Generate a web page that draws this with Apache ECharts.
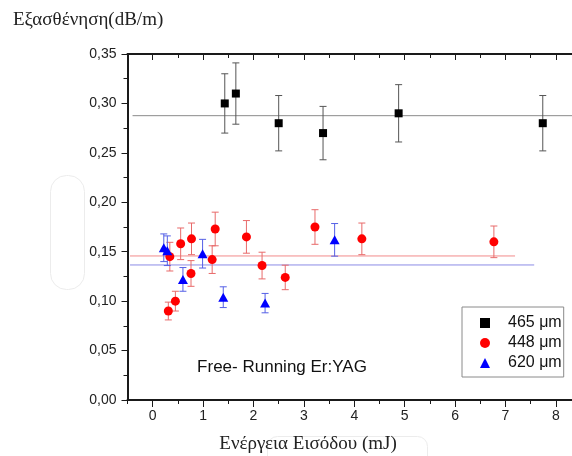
<!DOCTYPE html>
<html>
<head>
<meta charset="utf-8">
<script src="https://cdn.jsdelivr.net/npm/echarts@6/dist/echarts.min.js"></script>
<style>
  html, body { margin: 0; padding: 0; background: #fff; }
  #chart { width: 572px; height: 456px; }
</style>
</head>
<body>
<div id="chart"></div>
<script>
// Attenuation vs input energy, three fibre core diameters (Free-running Er:YAG)
const seriesNames = ['465 μm', '448 μm', '620 μm'];

// 465 μm
const energy465 = [1.43, 1.65, 2.50, 3.38, 4.88, 7.74];
const atten465  = [0.300, 0.310, 0.280, 0.270, 0.290, 0.280];
const err465    = [0.030, 0.031, 0.028, 0.027, 0.029, 0.028];

// 448 μm
const energy448 = [0.31, 0.34, 0.45, 0.555, 0.76, 0.77, 1.18, 1.24, 1.86, 2.17, 2.63, 3.22, 4.15, 6.77];
const atten448  = [0.090, 0.145, 0.100, 0.158, 0.128, 0.163, 0.142, 0.173, 0.165, 0.136, 0.124, 0.175, 0.163, 0.160];
const err448    = [0.009, 0.0145, 0.010, 0.016, 0.013, 0.016, 0.014, 0.017, 0.0165, 0.0135, 0.0124, 0.0175, 0.016, 0.016];

// 620 μm
const energy620 = [0.22, 0.29, 0.60, 0.99, 1.40, 2.23, 3.61];
const atten620  = [0.154, 0.151, 0.122, 0.148, 0.104, 0.098, 0.162];
const err620    = [0.014, 0.015, 0.012, 0.0145, 0.0105, 0.0098, 0.0165];

// Horizontal mean levels and their energy spans
const meanLevels = [0.2876, 0.1457, 0.1366];
const meanSpans  = [[-0.40, 8.32], [-0.45, 7.19], [-0.45, 7.57]];

// Axis ranges and ticks
const xMin = -0.5, xMax = 8.32;
const xMajorTicks = [0, 1, 2, 3, 4, 5, 6, 7, 8];
const xHalfTicks  = [-0.5, 0.5, 1.5, 2.5, 3.5, 4.5, 5.5, 6.5, 7.5];
const yMin = 0, yMax = 0.35, yStep = 0.05;

const markerColors = ['#000000', '#ff0000', '#0000ff'];
const barColors    = ['#555555', '#e86a6a', '#5560e6'];
const meanColors   = ['#8a8a8a', '#f28a8a', '#8c8ce6'];
const symbols      = ['rect', 'circle', 'triangle'];
const symbolSizes  = [8, 9, [10, 9]];

const groups = [
  [energy465, atten465, err465],
  [energy448, atten448, err448],
  [energy620, atten620, err620]
];

const series = [];

// mean lines (underneath the points)
meanLevels.forEach((lvl, i) => {
  series.push({
    type: 'line',
    xAxisIndex: 0,
    data: [[meanSpans[i][0], lvl], [meanSpans[i][1], lvl]],
    symbol: 'none',
    silent: true,
    lineStyle: { color: meanColors[i], width: 1 },
    z: 1
  });
});

// error bars
groups.forEach((g, i) => {
  const [xs, ys, es] = g;
  series.push({
    type: 'custom',
    xAxisIndex: 0,
    data: xs.map((x, k) => [x, ys[k], es[k]]),
    encode: { x: 0, y: 1 },
    silent: true,
    z: 2,
    renderItem: (params, api) => {
      const x = api.value(0), y = api.value(1), e = api.value(2);
      const top = api.coord([x, y + e]);
      const bot = api.coord([x, y - e]);
      const half = 3.5;
      const style = { stroke: barColors[i], lineWidth: 1 };
      return {
        type: 'group',
        children: [
          { type: 'line', shape: { x1: top[0], y1: top[1], x2: bot[0], y2: bot[1] }, style },
          { type: 'line', shape: { x1: top[0] - half, y1: top[1], x2: top[0] + half, y2: top[1] }, style },
          { type: 'line', shape: { x1: bot[0] - half, y1: bot[1], x2: bot[0] + half, y2: bot[1] }, style }
        ]
      };
    }
  });
});

// points
groups.forEach((g, i) => {
  const [xs, ys] = g;
  series.push({
    name: seriesNames[i],
    type: 'scatter',
    xAxisIndex: 0,
    data: xs.map((x, k) => [x, ys[k]]),
    symbol: symbols[i],
    symbolSize: symbolSizes[i],
    itemStyle: { color: markerColors[i], opacity: 1 },
    z: 3
  });
});

const axisColor = '#1a1a1a';
const commonX = { type: 'value', min: xMin, max: xMax, splitLine: { show: false } };

const option = {
  animation: false,
  backgroundColor: '#ffffff',
  grid: { left: 127.5, right: 0, top: 54, bottom: 56 },
  xAxis: [
    Object.assign({}, commonX, {
      position: 'bottom',
      axisLine: { onZero: false, lineStyle: { color: axisColor, width: 2 } },
      axisTick: { length: 7, customValues: xMajorTicks, lineStyle: { color: axisColor, width: 1 } },
      axisLabel: { customValues: xMajorTicks, color: '#222', fontSize: 14, fontFamily: 'Liberation Sans', margin: 9 }
    }),
    Object.assign({}, commonX, {
      position: 'bottom',
      axisLine: { show: false, onZero: false },
      axisTick: { length: 4, customValues: xHalfTicks, lineStyle: { color: axisColor, width: 1 } },
      axisLabel: { show: false }
    }),
    Object.assign({}, commonX, {
      position: 'top',
      axisLine: { onZero: false, lineStyle: { color: axisColor, width: 2 } },
      axisTick: { inside: true, length: 6, customValues: xMajorTicks, lineStyle: { color: axisColor, width: 1 } },
      axisLabel: { show: false }
    }),
    Object.assign({}, commonX, {
      position: 'top',
      axisLine: { show: false, onZero: false },
      axisTick: { inside: true, length: 4, customValues: xHalfTicks, lineStyle: { color: axisColor, width: 1 } },
      axisLabel: { show: false }
    })
  ],
  yAxis: {
    type: 'value',
    position: 'left',
    min: yMin, max: yMax, interval: yStep,
    splitLine: { show: false },
    axisLine: { onZero: false, lineStyle: { color: axisColor, width: 2 } },
    axisTick: { length: 6, lineStyle: { color: axisColor, width: 1 } },
    minorTick: { show: true, splitNumber: 2, length: 4, lineStyle: { color: axisColor, width: 1 } },
    axisLabel: {
      color: '#222', fontSize: 14, fontFamily: 'Liberation Sans', margin: 11,
      formatter: v => v.toFixed(2).replace('.', ',')
    }
  },
  legend: {
    data: seriesNames,
    orient: 'vertical',
    left: 462, top: 307,
    padding: [8, 2, 6, 18],
    itemWidth: 10, itemHeight: 10, itemGap: 4,
    borderColor: '#8a8a8a', borderWidth: 1,
    backgroundColor: '#fff',
    textStyle: { fontSize: 16, fontFamily: 'Liberation Sans', color: '#111', lineHeight: 16, padding: [0, 0, 0, 13] }
  },
  graphic: [
    // faint white patches with soft outlines
    { type: 'rect', left: 50, top: 175, shape: { width: 34, height: 114, r: 16 },
      style: { fill: '#fff', stroke: '#ececec', lineWidth: 1 }, z: 0 },
    { type: 'rect', left: 267, top: 436, shape: { width: 160, height: 30, r: 10 },
      style: { fill: '#fff', stroke: '#ececec', lineWidth: 1 }, z: 0 },
    { type: 'text', left: 13, top: 11, z: 10,
      style: { text: 'Εξασθένηση(dB/m)', font: '19px "Liberation Serif"', fill: '#222' } },
    { type: 'text', x: 308, y: 444, z: 10,
      style: { text: 'Ενέργεια Εισόδου (mJ)', font: '19px "Liberation Serif"', fill: '#222', align: 'center', verticalAlign: 'middle' } },
    { type: 'text', x: 282, y: 367, z: 10,
      style: { text: 'Free- Running Er:YAG', font: '17px "Liberation Sans"', fill: '#111', align: 'center', verticalAlign: 'middle' } }
  ],
  series
};

const chart = echarts.init(document.getElementById('chart'), null, { renderer: 'canvas' });
chart.setOption(option);
</script>
</body>
</html>
